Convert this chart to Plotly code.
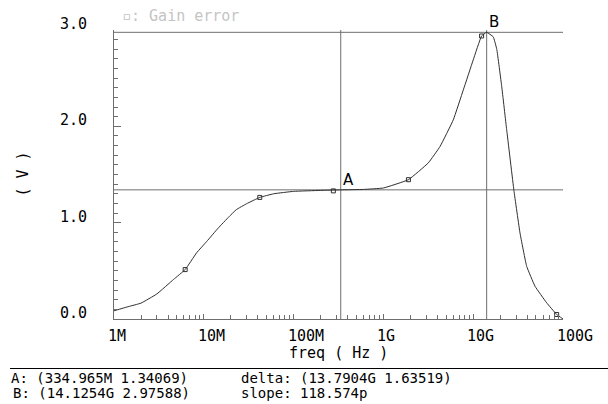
import plotly.graph_objects as go
import numpy as np

# ---- data ----
freq_hz = [1.0e6, 1.4e6, 2.0e6, 3.0e6, 4.6e6, 6.2e6, 8.3e6, 10.8e6, 14.5e6, 19e6,
           23e6, 30e6, 42e6, 60e6, 100e6, 200e6, 334.965e6, 600e6, 1.0e9, 1.9e9,
           3.16e9, 4.27e9, 6.0e9, 7.76e9, 10e9, 12.4e9, 14.1254e9, 16.7e9, 18.3e9,
           20.8e9, 23.6e9, 28.4e9, 33.2e9, 39.4e9, 48.8e9, 65.8e9, 85e9, 100e9]
gain_v = [0.085, 0.125, 0.165, 0.26, 0.41, 0.513, 0.686, 0.806, 0.945, 1.06,
          1.135, 1.197, 1.262, 1.30, 1.325, 1.335, 1.3407, 1.345, 1.36, 1.446,
          1.62, 1.79, 2.067, 2.378, 2.689, 2.938, 2.9759, 2.93, 2.80,
          2.41, 1.964, 1.335, 0.893, 0.547, 0.34, 0.168, 0.047, 0.0]

marker_freq = [6.2e6, 42e6, 277e6, 1.9e9, 12.4e9, 85e9]
marker_gain = [0.513, 1.262, 1.33, 1.446, 2.938, 0.047]

cursor_a = (334.965e6, 1.34069)
cursor_b = (14.1254e9, 2.97588)

x_tick_vals = [1e6, 1e7, 1e8, 1e9, 1e10, 1e11]
x_tick_text = ["1M", "10M", "100M", "1G", "10G", "100G"]
y_tick_vals = [0.0, 1.0, 2.0, 3.0]
y_tick_text = ["0.0", "1.0", "2.0", "3.0"]

x_range_hz = [1e6, 100e9]
y_range = [0.0, 3.0]

readout_left = ["A: (334.965M 1.34069)", "B: (14.1254G 2.97588)"]
readout_right = ["delta: (13.7904G 1.63519)", "slope: 118.574p"]

# ---- styling ----
FONT = "DejaVu Sans Mono"
AXC = "#6e6e6e"
CURVE = "#303030"

fig = go.Figure()

# cursor lines
for (cx, cy) in (cursor_a, cursor_b):
    fig.add_trace(go.Scatter(x=x_range_hz, y=[cy, cy], mode="lines",
                             line=dict(color=AXC, width=1), hoverinfo="skip", showlegend=False))
    fig.add_trace(go.Scatter(x=[cx, cx], y=y_range, mode="lines",
                             line=dict(color=AXC, width=1), hoverinfo="skip", showlegend=False))

# curve
fig.add_trace(go.Scatter(x=freq_hz, y=gain_v, mode="lines",
                         line=dict(color=CURVE, width=1, shape="spline", smoothing=0.3),
                         name="Gain error", showlegend=False))
fig.add_trace(go.Scatter(x=marker_freq, y=marker_gain, mode="markers",
                         marker=dict(symbol="square-open", size=4,
                                     line=dict(color=CURVE, width=1), color=CURVE),
                         showlegend=False, hoverinfo="skip"))

ann = []
# x tick labels (left-aligned like the reference)
for v, t in zip(x_tick_vals, x_tick_text):
    ann.append(dict(x=np.log10(v), xref="x", y=0, yref="paper", text=t,
                    showarrow=False, xanchor="left", yanchor="top", xshift=-8, yshift=-6,
                    font=dict(family=FONT, size=15, color="black")))
# y tick labels
for v, t in zip(y_tick_vals, y_tick_text):
    ann.append(dict(x=0, xref="paper", y=v, yref="y", text=t, showarrow=False,
                    xanchor="right", yanchor="middle", xshift=-25, yshift=6,
                    font=dict(family=FONT, size=15, color="black")))
# axis titles
ann.append(dict(x=0.5, xref="paper", y=0, yref="paper", text="freq ( Hz )",
                showarrow=False, xanchor="center", yanchor="middle", yshift=-34,
                font=dict(family=FONT, size=15, color="black")))
ann.append(dict(x=0, xref="paper", y=0.5, yref="paper", text="( V )", textangle=-90,
                showarrow=False, xanchor="center", yanchor="middle", xshift=-92,
                font=dict(family=FONT, size=15, color="black")))
# legend
ann.append(dict(x=0, xref="paper", y=1, yref="paper", text="\u25ab: Gain error",
                showarrow=False, xanchor="left", yanchor="middle", xshift=6, yshift=14,
                font=dict(family=FONT, size=15, color="#c4c4c4")))
# cursor labels
for (cx, cy), lab in ((cursor_a, "A"), (cursor_b, "B")):
    ann.append(dict(x=np.log10(cx), xref="x", y=cy, yref="y", text=lab, showarrow=False,
                    xanchor="left", yanchor="bottom", xshift=0, yshift=-1,
                    font=dict(family="DejaVu Sans", size=15, color="black")))
# readouts
for i, t in enumerate(readout_left):
    ann.append(dict(x=0, xref="paper", y=0, yref="paper", text=t, showarrow=False,
                    xanchor="left", yanchor="middle", xshift=-105 + (2 if i else 0),
                    yshift=-59 - 15 * i, font=dict(family=FONT, size=14, color="black")))
for i, t in enumerate(readout_right):
    ann.append(dict(x=0, xref="paper", y=0, yref="paper", text=t, showarrow=False,
                    xanchor="left", yanchor="middle", xshift=125,
                    yshift=-59 - 15 * i, font=dict(family=FONT, size=14, color="black")))

fig.update_layout(
    width=608, height=404,
    margin=dict(l=114, r=45, t=30, b=85),
    paper_bgcolor="white", plot_bgcolor="white",
    annotations=ann,
    shapes=[dict(type="line", xref="paper", yref="paper",
                 x0=(10 - 114) / 449, x1=(608 - 114) / 449,
                 y0=(319.5 - 369) / 289, y1=(319.5 - 369) / 289,
                 line=dict(color="black", width=1))],
)
fig.update_xaxes(type="log", range=[6, 11], showgrid=False, zeroline=False,
                 showline=True, linecolor=AXC, linewidth=1, mirror=False,
                 ticks="inside", ticklen=5, tickcolor=AXC, dtick=1, showticklabels=False,
                 minor=dict(ticks="inside", ticklen=4, tickcolor=AXC, showgrid=False))
fig.update_yaxes(range=y_range, showgrid=False, zeroline=False,
                 showline=True, linecolor=AXC, linewidth=1, mirror=False,
                 ticks="inside", ticklen=7, tickcolor=AXC, dtick=1, showticklabels=False,
                 minor=dict(ticks="inside", ticklen=4, tickcolor=AXC, dtick=0.1, showgrid=False))

fig.write_html("out.html", config={"displayModeBar": False},
               post_script="document.body.style.margin='0';document.body.style.overflow='hidden';")
